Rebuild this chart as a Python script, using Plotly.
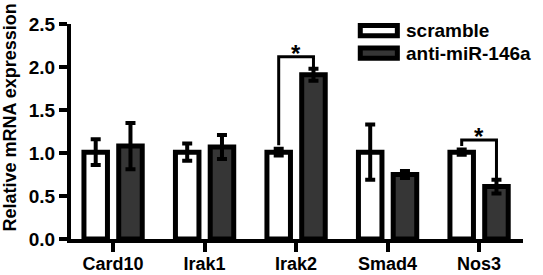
import plotly.graph_objects as go

genes = ["Card10", "Irak1", "Irak2", "Smad4", "Nos3"]
scramble = [1.01, 1.01, 1.01, 1.01, 1.01]
scramble_err = [0.15, 0.10, 0.04, 0.32, 0.03]
anti = [1.08, 1.07, 1.91, 0.75, 0.61]
anti_err = [0.27, 0.14, 0.07, 0.04, 0.08]
series_names = ["scramble", "anti-miR-146a"]
y_ticks = [0.0, 0.5, 1.0, 1.5, 2.0, 2.5]

# significance brackets: gene index, bracket height
sig_idx = [2, 4]
sig_height = [2.12, 1.15]

offset = 0.19
bar_w = 0.257
font_family = "Liberation Sans, Arial, sans-serif"
dark = "#363636"

xs = list(range(len(genes)))
fig = go.Figure()
fig.add_trace(go.Bar(
    x=[i - offset for i in xs], y=scramble, width=bar_w, name=series_names[0],
    marker=dict(color="white", line=dict(color="black", width=5)),
    error_y=dict(type="data", array=scramble_err, color="black", thickness=4, width=5),
    showlegend=False, hoverinfo="skip",
))
fig.add_trace(go.Bar(
    x=[i + offset for i in xs], y=anti, width=bar_w, name=series_names[1],
    marker=dict(color=dark, line=dict(color="black", width=5)),
    error_y=dict(type="data", array=anti_err, color="black", thickness=4, width=5),
    showlegend=False, hoverinfo="skip",
))

shapes = []
annotations = []
for k, h in zip(sig_idx, sig_height):
    left_bottom = scramble[k] + scramble_err[k] + 0.04
    right_bottom = anti[k] + anti_err[k]
    xl, xr = k - offset, k + offset
    path = f"M{xl},{left_bottom} L{xl},{h} L{xr},{h} L{xr},{right_bottom}"
    shapes.append(dict(type="path", path=path, xref="x", yref="y",
                       line=dict(color="black", width=3)))
    annotations.append(dict(x=k, y=h, xref="x", yref="y", text="*", showarrow=False,
                            yanchor="bottom", yshift=-12,
                            font=dict(family=font_family, size=24, color="black", weight="bold")))

# manual legend
leg_boxes = [(0.993, 0.945), (0.888, 0.841)]
leg_fill = ["white", dark]
leg_text_y = [0.972, 0.865]
for (y1, y0), fc, ty, nm in zip(leg_boxes, leg_fill, leg_text_y, series_names):
    shapes.append(dict(type="rect", xref="paper", yref="paper", x0=0.640, x1=0.722,
                       y0=y0, y1=y1, fillcolor=fc, line=dict(color="black", width=5)))
    annotations.append(dict(x=0.736, y=ty, xref="paper", yref="paper", text=nm,
                            showarrow=False, xanchor="left", yanchor="middle",
                            font=dict(family=font_family, size=19, color="black", weight="bold")))

annotations.append(dict(x=-0.137, y=0.565, xref="paper", yref="paper",
                        text="Relative mRNA expression", textangle=-90, showarrow=False,
                        xanchor="center", yanchor="middle",
                        font=dict(family=font_family, size=18, color="black", weight="bold")))

fig.update_layout(
    width=543, height=275,
    margin=dict(l=71, r=20, t=24, b=36),
    plot_bgcolor="white", paper_bgcolor="white",
    barmode="overlay",
    shapes=shapes, annotations=annotations,
    showlegend=False,
)
fig.update_xaxes(
    range=[-0.46, 4.48], tickvals=xs, ticktext=genes, automargin=False,
    showline=True, linecolor="black", linewidth=4,
    ticks="outside", ticklen=9, tickwidth=4, tickcolor="black",
    ticklabelstandoff=-4,
    showgrid=False, zeroline=False,
    tickfont=dict(family=font_family, size=18, color="black", weight="bold"),
)
fig.update_yaxes(
    range=[0, 2.5], tickvals=y_ticks, ticktext=[f"{v:.1f}" for v in y_ticks], automargin=False,
    showline=True, linecolor="black", linewidth=4,
    ticks="outside", ticklen=8, tickwidth=4, tickcolor="black",
    showgrid=False, zeroline=False,
    tickfont=dict(family=font_family, size=19, color="black", weight="bold"),
)

fig.write_html(
    "out.html",
    config={"displayModeBar": False},
    post_script="document.body.style.margin='0';document.body.style.padding='0';document.body.style.overflow='hidden';",
)
